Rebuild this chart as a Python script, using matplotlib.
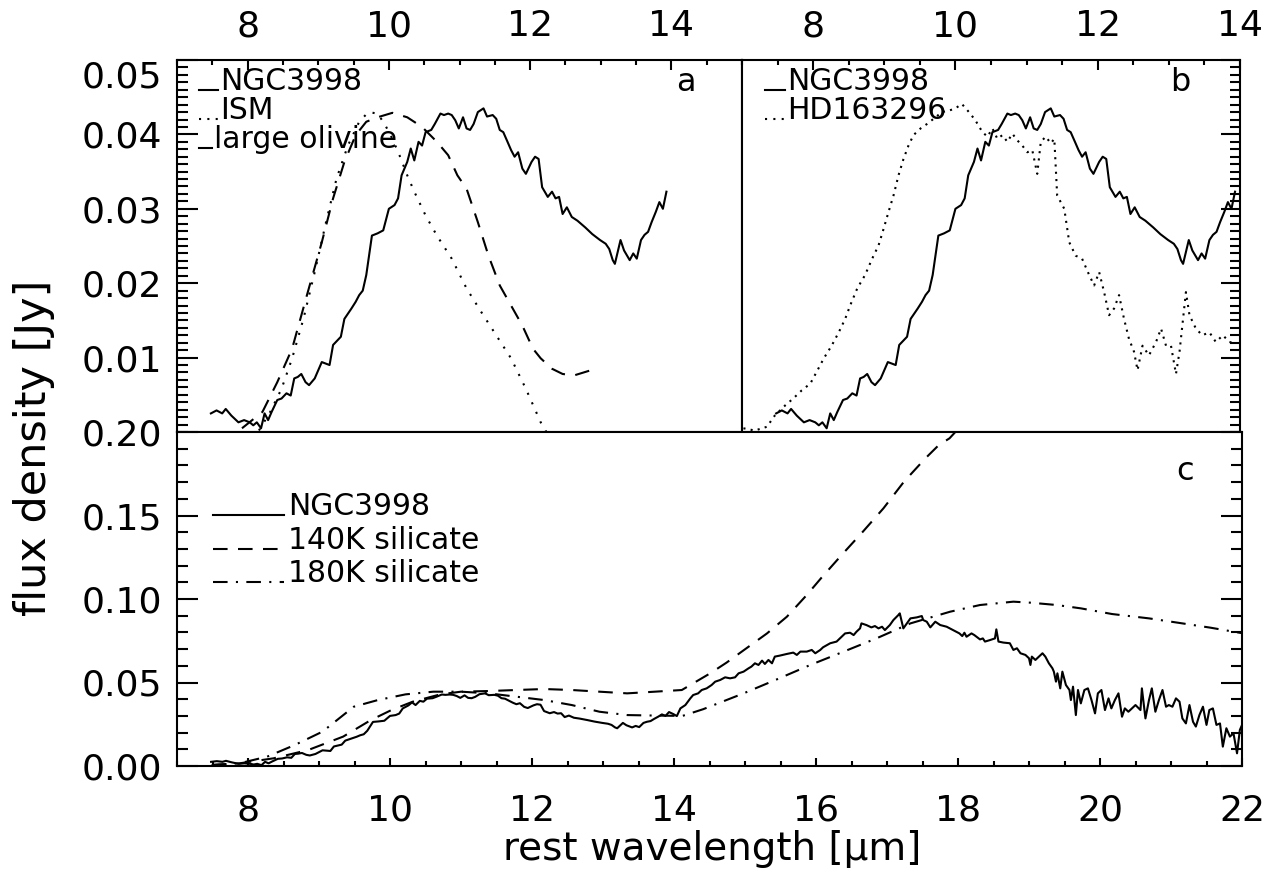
import numpy as np
import matplotlib
matplotlib.use('Agg')
import matplotlib.pyplot as plt
from matplotlib.ticker import MultipleLocator, FixedLocator, FormatStrFormatter

# NGC3998 spectrum (rest wavelength in micron, flux density in Jy)
ngc_wav = [7.48, 7.56, 7.64, 7.69, 7.77, 7.87, 7.95, 8.03, 8.08, 8.13, 8.19, 8.24, 8.29, 8.34,
           8.42, 8.48, 8.55, 8.61, 8.66, 8.71, 8.76, 8.82, 8.87, 8.95, 9.05, 9.16, 9.21, 9.32,
           9.37, 9.47, 9.53, 9.58, 9.63, 9.68, 9.76, 9.84, 9.92, 10.00, 10.08, 10.13, 10.18,
           10.26, 10.31, 10.36, 10.42, 10.47, 10.52, 10.60, 10.65, 10.73, 10.78, 10.84, 10.89,
           10.94, 10.99, 11.05, 11.10, 11.15, 11.20, 11.26, 11.34, 11.39, 11.47, 11.52, 11.57,
           11.62, 11.68, 11.73, 11.78, 11.83, 11.89, 11.94, 12.02, 12.07, 12.12, 12.17, 12.25,
           12.31, 12.36, 12.41, 12.46, 12.52, 12.59, 12.67, 12.78, 12.88, 12.99, 13.07, 13.12,
           13.17, 13.20, 13.28, 13.33, 13.41, 13.46, 13.51, 13.57, 13.62, 13.67, 13.72, 13.78,
           13.83, 13.88, 13.93,
           13.99, 14.04, 14.09, 14.16, 14.23, 14.27, 14.34, 14.39, 14.46, 14.53, 14.58, 14.65,
           14.72, 14.79, 14.86, 14.91, 14.98, 15.05, 15.09, 15.14, 15.19, 15.24, 15.28, 15.33,
           15.38, 15.42, 15.49, 15.59, 15.68, 15.73, 15.78, 15.87, 15.94, 15.99, 16.06, 16.10,
           16.20, 16.29, 16.36, 16.41, 16.48, 16.53, 16.57, 16.62, 16.64, 16.71, 16.78, 16.83,
           16.88, 16.93, 16.97, 17.04, 17.09, 17.16, 17.18, 17.23, 17.28, 17.33, 17.42, 17.49,
           17.51, 17.56, 17.61, 17.68, 17.75, 17.84, 17.93, 18.02, 18.06, 18.09, 18.12, 18.19,
           18.23, 18.31, 18.35, 18.38, 18.45, 18.52, 18.54, 18.57, 18.64, 18.73, 18.78, 18.83,
           18.88, 18.95, 19.00, 19.02, 19.04, 19.09, 19.14, 19.19, 19.23, 19.28, 19.33, 19.35,
           19.38, 19.40, 19.44, 19.47, 19.52, 19.57, 19.59, 19.62, 19.66, 19.69, 19.73, 19.78,
           19.83, 19.88, 19.93, 19.97, 20.02, 20.07, 20.12, 20.16, 20.21, 20.26, 20.31, 20.35,
           20.40, 20.45, 20.50, 20.57, 20.59, 20.64, 20.69, 20.73, 20.78, 20.83, 20.88, 20.93,
           20.97, 21.02, 21.07, 21.12, 21.16, 21.21, 21.26, 21.31, 21.35, 21.40, 21.45, 21.50,
           21.54, 21.59, 21.64, 21.69, 21.73, 21.78, 21.83, 21.88, 21.93, 21.97, 22.02]
ngc_flux = [0.0025, 0.0029, 0.0025, 0.0031, 0.0022, 0.0013, 0.0016, 0.0013, 0.0009, 0.0013,
            0.0005, 0.0025, 0.0016, 0.0027, 0.0043, 0.0045, 0.0052, 0.0049, 0.0072, 0.0074,
            0.0078, 0.0067, 0.0063, 0.0072, 0.0094, 0.0090, 0.0117, 0.0128, 0.0152, 0.0166,
            0.0175, 0.0184, 0.0190, 0.0211, 0.0264, 0.0267, 0.0271, 0.0300, 0.0305, 0.0314,
            0.0345, 0.0363, 0.0381, 0.0365, 0.0390, 0.0385, 0.0403, 0.0406, 0.0414, 0.0428,
            0.0426, 0.0428, 0.0426, 0.0419, 0.0408, 0.0423, 0.0408, 0.0406, 0.0414, 0.0430,
            0.0435, 0.0424, 0.0426, 0.0421, 0.0406, 0.0403, 0.0390, 0.0379, 0.0370, 0.0376,
            0.0354, 0.0347, 0.0363, 0.0370, 0.0367, 0.0329, 0.0316, 0.0323, 0.0314, 0.0316,
            0.0293, 0.0302, 0.0289, 0.0284, 0.0275, 0.0266, 0.0258, 0.0253, 0.0246, 0.0231,
            0.0226, 0.0258, 0.0244, 0.0231, 0.0240, 0.0233, 0.0258, 0.0265, 0.0269, 0.0282,
            0.0296, 0.0309, 0.0300, 0.0323,
            0.0311, 0.0299, 0.0345, 0.0365, 0.0405, 0.0425, 0.0435, 0.0455, 0.0465, 0.0485,
            0.0505, 0.0515, 0.0531, 0.0525, 0.0531, 0.0555, 0.0565, 0.0585, 0.0595, 0.0615,
            0.0605, 0.0631, 0.0611, 0.0635, 0.0615, 0.0655, 0.0661, 0.0671, 0.0679, 0.0665,
            0.0685, 0.0685, 0.0695, 0.0675, 0.0695, 0.0711, 0.0735, 0.0745, 0.0774, 0.0794,
            0.0798, 0.0784, 0.0804, 0.0824, 0.0854, 0.0844, 0.0830, 0.0838, 0.0824, 0.0834,
            0.0814, 0.0844, 0.0874, 0.0904, 0.0914, 0.0824, 0.0854, 0.0884, 0.0890, 0.0898,
            0.0874, 0.0864, 0.0830, 0.0864, 0.0844, 0.0834, 0.0814, 0.0794, 0.0778, 0.0798,
            0.0774, 0.0794, 0.0784, 0.0758, 0.0764, 0.0745, 0.0754, 0.0764, 0.0818, 0.0745,
            0.0739, 0.0735, 0.0695, 0.0705, 0.0675, 0.0665, 0.0645, 0.0605, 0.0655, 0.0635,
            0.0655, 0.0675, 0.0655, 0.0615, 0.0585, 0.0565, 0.0505, 0.0555, 0.0465, 0.0565,
            0.0485, 0.0455, 0.0395, 0.0475, 0.0305, 0.0455, 0.0375, 0.0455, 0.0465, 0.0395,
            0.0315, 0.0435, 0.0455, 0.0335, 0.0405, 0.0345, 0.0395, 0.0435, 0.0295, 0.0345,
            0.0325, 0.0345, 0.0365, 0.0335, 0.0465, 0.0285, 0.0395, 0.0465, 0.0325, 0.0395,
            0.0455, 0.0355, 0.0365, 0.0355, 0.0405, 0.0385, 0.0285, 0.0255, 0.0365, 0.0265,
            0.0236, 0.0305, 0.0355, 0.0246, 0.0335, 0.0345, 0.0246, 0.0255, 0.0116, 0.0226,
            0.0176, 0.0196, 0.0076, 0.0216, 0.0265]

# panel a: ISM and large olivine templates
ism_wav = [8.16, 8.32, 8.48, 8.63, 8.79, 8.95, 9.11, 9.26, 9.42, 9.58, 9.71, 9.84, 9.94,
           10.05, 10.15, 10.26, 10.36, 10.52, 10.68, 10.89, 11.10, 11.31, 11.52, 11.73,
           11.94, 12.15, 12.23]
ism_flux = [0.0002, 0.0027, 0.0058, 0.0099, 0.0152, 0.0215, 0.0282, 0.0341, 0.0385, 0.0417,
            0.0430, 0.0428, 0.0414, 0.0394, 0.0372, 0.0345, 0.0323, 0.0291, 0.0264, 0.0233,
            0.0193, 0.0161, 0.0130, 0.0099, 0.0058, 0.0013, 0.0]
oliv_wav = [7.92, 8.21, 8.42, 8.63, 8.84, 9.05, 9.21, 9.37, 9.53, 9.68, 9.84, 10.05, 10.26,
            10.47, 10.68, 10.84, 10.97, 11.10, 11.26, 11.41, 11.57, 11.73, 11.89, 12.04,
            12.15, 12.31, 12.46, 12.62, 12.86]
oliv_flux = [0.0005, 0.0027, 0.0067, 0.0112, 0.0184, 0.0255, 0.0314, 0.0363, 0.0399, 0.0417,
             0.0423, 0.0429, 0.0423, 0.0410, 0.0390, 0.0372, 0.0345, 0.0327, 0.0282, 0.0237,
             0.0197, 0.0170, 0.0143, 0.0112, 0.0099, 0.0085, 0.0078, 0.0076, 0.0083]

# panel b: HD163296
hd_wav = [7.02, 7.18, 7.35, 7.46, 7.61, 7.72, 7.84, 7.96, 8.05, 8.15, 8.26, 8.36, 8.45, 8.52,
          8.62, 8.73, 8.83, 8.92, 8.99, 9.06, 9.13, 9.20, 9.27, 9.34, 9.41, 9.51, 9.60, 9.72,
          9.81, 9.91, 10.00, 10.09, 10.19, 10.28, 10.38, 10.45, 10.52, 10.59, 10.66, 10.73,
          10.80, 10.87, 10.94, 11.01, 11.08, 11.15, 11.20, 11.27, 11.34, 11.39, 11.43, 11.53,
          11.60, 11.69, 11.78, 11.88, 11.95, 12.02, 12.09, 12.16, 12.23, 12.30, 12.37, 12.44,
          12.51, 12.56, 12.63, 12.72, 12.82, 12.89, 12.96, 13.03, 13.10, 13.15, 13.24, 13.29,
          13.38, 13.47, 13.57, 13.66, 13.76, 13.85, 13.94]
hd_flux = [0.0005, 0.0002, 0.0007, 0.0022, 0.0036, 0.0045, 0.0056, 0.0065, 0.0081, 0.0099,
           0.0116, 0.0134, 0.0152, 0.0170, 0.0193, 0.0211, 0.0233, 0.0251, 0.0273, 0.0296,
           0.0318, 0.0345, 0.0367, 0.0385, 0.0399, 0.0408, 0.0414, 0.0423, 0.0430, 0.0432,
           0.0435, 0.0441, 0.0430, 0.0419, 0.0403, 0.0397, 0.0408, 0.0394, 0.0399, 0.0390,
           0.0401, 0.0392, 0.0385, 0.0376, 0.0379, 0.0347, 0.0390, 0.0397, 0.0388, 0.0394,
           0.0318, 0.0300, 0.0255, 0.0237, 0.0233, 0.0211, 0.0197, 0.0215, 0.0188, 0.0157,
           0.0166, 0.0184, 0.0152, 0.0125, 0.0108, 0.0083, 0.0116, 0.0103, 0.0121, 0.0139,
           0.0116, 0.0116, 0.0078, 0.0108, 0.0188, 0.0157, 0.0139, 0.0130, 0.0134, 0.0121,
           0.0130, 0.0121, 0.0119]

# panel c: silicate emission models
sil140_wav = [7.49, 7.88, 8.36, 8.85, 9.34, 9.73, 10.02, 10.32, 10.71, 11.00, 11.39, 11.78,
              12.17, 12.56, 12.95, 13.34, 13.73, 14.11, 14.27, 14.51, 14.74, 15.02, 15.31,
              15.59, 15.87, 16.07, 16.36, 16.66, 16.95, 17.24, 17.54, 17.73, 17.88, 18.05]
sil140_flux = [0.0006, 0.0016, 0.0046, 0.0096, 0.0176, 0.0275, 0.0335, 0.0385, 0.0429, 0.0445,
               0.0449, 0.0455, 0.0461, 0.0455, 0.0445, 0.0435, 0.0445, 0.0455, 0.0495, 0.0555,
               0.0619, 0.0705, 0.0794, 0.0894, 0.1024, 0.1124, 0.1263, 0.1403, 0.1543, 0.1703,
               0.1842, 0.1922, 0.1962, 0.2040]
sil180_wav = [7.49, 7.88, 8.27, 8.66, 9.05, 9.49, 9.83, 10.22, 10.61, 11.00, 11.39, 11.78,
              12.17, 12.56, 12.95, 13.34, 13.73, 14.12, 14.41, 14.71, 14.98, 15.45, 15.92,
              16.39, 16.85, 17.33, 17.89, 18.31, 18.78, 19.02, 19.39, 19.73, 20.17, 20.69,
              21.16, 21.56, 22.02]
sil180_flux = [0.0006, 0.0016, 0.0056, 0.0126, 0.0206, 0.0355, 0.0395, 0.0429, 0.0445, 0.0445,
               0.0435, 0.0415, 0.0395, 0.0365, 0.0325, 0.0305, 0.0302, 0.0300, 0.0340, 0.0390,
               0.0435, 0.0519, 0.0605, 0.0685, 0.0764, 0.0854, 0.0924, 0.0964, 0.0984, 0.0978,
               0.0964, 0.0944, 0.0910, 0.0884, 0.0854, 0.0828, 0.0794]

ngc_wav = np.array(ngc_wav)
ngc_flux = np.array(ngc_flux)
short = ngc_wav < 13.95

plt.rcParams['font.family'] = ['DejaVu Sans']
lw = 1.5
dashed = (0, (7, 5))
dotted = (0, (1, 4))
dashdot = (0, (7, 4, 1, 4))
tick_fs = 26

W, H = 1265, 882
fig = plt.figure(figsize=(W / 100, H / 100), dpi=100)


def box(l, t, r, b):
    return [l / W, 1 - b / H, (r - l) / W, (b - t) / H]


ax_a = fig.add_axes(box(177, 60, 742, 432))
ax_b = fig.add_axes(box(742, 60, 1240, 432))
ax_c = fig.add_axes(box(177, 432, 1242, 766))

for ax in (ax_a, ax_b, ax_c):
    for s in ax.spines.values():
        s.set_linewidth(lw)

# panel a
ax_a.plot(ngc_wav[short], ngc_flux[short], 'k-', lw=lw)
ax_a.plot(ism_wav, ism_flux, 'k', ls=dotted, lw=lw)
ax_a.plot(oliv_wav, oliv_flux, 'k', ls=dashed, lw=lw)
ax_a.set_xlim(7, 15)
ax_a.set_ylim(0, 0.05)

# panel b
ax_b.plot(ngc_wav[short], ngc_flux[short], 'k-', lw=lw)
ax_b.plot(hd_wav, hd_flux, 'k', ls=(0, (1, 2.5)), lw=lw)
ax_b.set_xlim(7, 14)
ax_b.set_ylim(0, 0.05)

for ax in (ax_a, ax_b):
    ax.xaxis.set_major_locator(MultipleLocator(2))
    ax.xaxis.set_minor_locator(MultipleLocator(0.5))
    ax.yaxis.set_major_locator(FixedLocator([0.01, 0.02, 0.03, 0.04, 0.05]))
    ax.yaxis.set_minor_locator(MultipleLocator(0.001))
    ax.yaxis.set_major_formatter(FormatStrFormatter('%.2f'))
    ax.tick_params(axis='x', which='both', direction='in', top=True, bottom=False,
                   labeltop=True, labelbottom=False, labelsize=tick_fs, pad=12, width=lw)
    ax.tick_params(axis='x', which='major', length=7)
    ax.tick_params(axis='x', which='minor', length=3.5)

ax_a.tick_params(axis='y', which='both', direction='in', left=True, right=False,
                 labelleft=True, labelsize=tick_fs, pad=11, width=lw)
ax_a.tick_params(axis='y', which='major', length=15)
ax_a.tick_params(axis='y', which='minor', length=8)
ax_a.get_yticklabels()[-1].set_va('top')
ax_b.tick_params(axis='y', which='both', direction='in', left=False, right=True,
                 labelleft=False, labelright=False, width=lw)
ax_b.tick_params(axis='y', which='major', length=14)
ax_b.tick_params(axis='y', which='minor', length=7)

# panel c
ax_c.plot(ngc_wav, ngc_flux, 'k-', lw=lw)
ax_c.plot(sil140_wav, sil140_flux, 'k', ls=dashed, lw=lw)
ax_c.plot(sil180_wav, sil180_flux, 'k', ls=dashdot, lw=lw)
ax_c.set_xlim(7, 22)
ax_c.set_ylim(0, 0.20)
ax_c.xaxis.set_major_locator(MultipleLocator(2))
ax_c.xaxis.set_minor_locator(MultipleLocator(0.5))
ax_c.yaxis.set_major_locator(MultipleLocator(0.05))
ax_c.yaxis.set_minor_locator(MultipleLocator(0.01))
ax_c.yaxis.set_major_formatter(FormatStrFormatter('%.2f'))
ax_c.tick_params(axis='x', which='both', direction='in', top=False, bottom=True,
                 labelsize=tick_fs, pad=20, width=lw)
ax_c.tick_params(axis='x', which='major', length=6)
ax_c.tick_params(axis='x', which='minor', length=3.5)
ax_c.tick_params(axis='y', which='both', direction='in', left=True, right=True,
                 labelsize=tick_fs, pad=11, width=lw)
ax_c.tick_params(axis='y', which='major', length=15)
ax_c.tick_params(axis='y', which='minor', length=8)
ylabs = ax_c.get_yticklabels()
ylabs[0].set_va('bottom')
ylabs[-1].set_va('top')

# legends drawn IDL style: short line sample followed by the name
fs = 21.5


def legend_row(ax, x0, x1, y, ls, name):
    ax.plot([x0, x1], [y, y], 'k', ls=ls, lw=lw, transform=ax.transAxes, clip_on=False)
    ax.text(x1 + 0.004, y, name, transform=ax.transAxes, fontsize=fs, va='baseline', ha='left')


legend_row(ax_a, 0.039, 0.073, 0.919, '-', 'NGC3998')
legend_row(ax_a, 0.039, 0.073, 0.841, (0, (1, 3)), 'ISM')
legend_row(ax_a, 0.039, 0.062, 0.763, '-', 'large olivine')
legend_row(ax_b, 0.046, 0.086, 0.919, '-', 'NGC3998')
legend_row(ax_b, 0.046, 0.086, 0.841, (0, (1, 3)), 'HD163296')
legend_row(ax_c, 0.034, 0.100, 0.7515, '-', 'NGC3998')
legend_row(ax_c, 0.034, 0.100, 0.650, (0, (7, 5)), '140K silicate')
legend_row(ax_c, 0.034, 0.100, 0.551, (0, (7, 4, 1, 4)), '180K silicate')

ax_a.text(0.900, 0.94, 'a', transform=ax_a.transAxes, fontsize=23, ha='center', va='center')
ax_b.text(0.880, 0.94, 'b', transform=ax_b.transAxes, fontsize=23, ha='center', va='center')
ax_c.text(0.947, 0.882, 'c', transform=ax_c.transAxes, fontsize=23, ha='center', va='center')

fig.text(712 / W, 1 - 860 / H, 'rest wavelength [μm]', fontsize=28, ha='center', va='baseline')
fig.text(34 / W, 1 - 448 / H, 'flux density [Jy]', fontsize=31, ha='center', va='center',
         rotation=90)

fig.savefig('out.png', dpi=100)
